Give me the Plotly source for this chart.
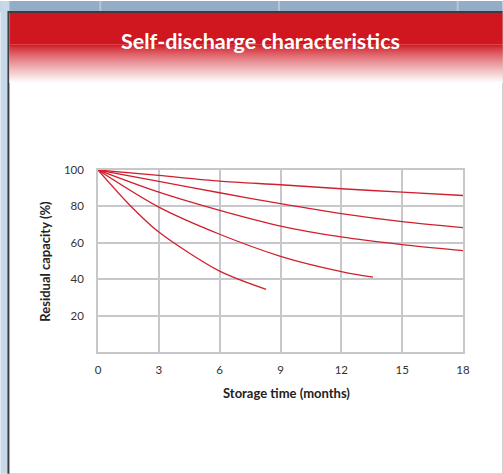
import plotly.graph_objects as go

# storage time (months) and residual capacity (%) for each curve
months_1 = [0, 3, 6, 9, 12, 15, 18]
capacity_1 = [100, 97.0, 93.9, 91.9, 89.7, 87.8, 86.0]

months_2 = [0, 3, 6, 9, 12, 15, 18]
capacity_2 = [100, 93.7, 87.5, 81.5, 76.0, 71.6, 68.3]

months_3 = [0, 3, 6, 9, 12, 15, 18]
capacity_3 = [100, 87.8, 77.8, 69.2, 63.2, 59.0, 55.7]

months_4 = [0, 3, 6, 9, 12, 13.56]
capacity_4 = [100, 79.6, 64.7, 52.6, 44.2, 41.1]

months_5 = [0, 1.5, 3, 6, 8.29]
capacity_5 = [100, 81.5, 65.9, 44.4, 34.4]

x_ticks = [0, 3, 6, 9, 12, 15, 18]
y_ticks = [20, 40, 60, 80, 100]

_RED = "#d0202e"
_GRID = "#c8c8cc"
_FONT = "Lato, 'DejaVu Sans', sans-serif"

W, H = 503, 474
L, R, T, B = 97.7, 463.3, 169.5, 352.0


def px(x):
    return (x - L) / (R - L)


def py(y):
    return (B - y) / (B - T)


fig = go.Figure()
for xs, ys in [(months_1, capacity_1), (months_2, capacity_2), (months_3, capacity_3),
               (months_4, capacity_4), (months_5, capacity_5)]:
    fig.add_trace(go.Scatter(
        x=xs, y=ys, mode="lines",
        line=dict(color=_RED, width=1.3, shape="spline", smoothing=0.8),
        hoverinfo="skip", showlegend=False,
    ))

shapes = []


def rect(x0, y0, x1, y1, color):
    shapes.append(dict(type="rect", xref="paper", yref="paper", layer="below",
                       x0=px(x0), x1=px(x1), y0=py(y0), y1=py(y1),
                       fillcolor=color, line=dict(width=0)))


# slide background
rect(0, 0, W, 11, "#95acc6")
rect(0, 0, 9, H, "#c7d8e8")
for vx in (99, 278, 457):
    rect(vx, 0, vx + 2, 10, "#b4c6da")
# panel + dark frame
rect(7, 10, W, H, "#3b3d40")
rect(9, 12, W, H, "#ffffff")
# red header with fade to white
rect(9, 12, W, 44, "#d0161f")
top, bot = 44, 82
steps = 38
for i in range(steps):
    t = (i + 0.5) / steps
    t = t ** 0.8
    r = int(208 + (255 - 208) * t)
    g = int(22 + (255 - 22) * t)
    b = int(31 + (255 - 31) * t)
    y0 = top + (bot - top) * i / steps
    y1 = top + (bot - top) * (i + 1) / steps + 0.5
    rect(9, y0, W, y1, f"rgb({r},{g},{b})")

fig.update_layout(
    width=W, height=H,
    paper_bgcolor="#ffffff",
    plot_bgcolor="rgba(0,0,0,0)",
    margin=dict(l=L, r=W - R, t=T, b=H - B, pad=0),
    font=dict(family=_FONT, color="#333333", size=11),
    shapes=shapes,
    xaxis=dict(
        range=[0, 18], tickvals=x_ticks, showgrid=True, gridcolor=_GRID, gridwidth=1.5,
        showline=True, linecolor=_GRID, linewidth=1.5, mirror=True,
        zeroline=False, ticks="", ticklabelstandoff=6,
        tickfont=dict(size=11.5, color="#333333"),
    ),
    yaxis=dict(
        range=[0, 100], tickvals=y_ticks, showgrid=True, gridcolor=_GRID, gridwidth=1.5,
        showline=True, linecolor=_GRID, linewidth=1.5, mirror=True,
        zeroline=False, ticks="", ticklabelstandoff=10,
        tickfont=dict(size=11.5, color="#333333"),
    ),
    annotations=[
        dict(text="<b>Self-discharge characteristics</b>", xref="paper", yref="paper",
             x=px(260), y=py(40), xanchor="center", yanchor="middle", showarrow=False,
             font=dict(family=_FONT, size=21.5, color="#ffffff")),
        dict(text="<b>Residual capacity (%)</b>", xref="paper", yref="paper",
             x=px(45), y=py(261), xanchor="center", yanchor="middle", showarrow=False,
             textangle=-90, font=dict(family=_FONT, size=13, color="#222222")),
        dict(text="<b>Storage time (months)</b>", xref="paper", yref="paper",
             x=px(287), y=py(393), xanchor="center", yanchor="middle", showarrow=False,
             font=dict(family=_FONT, size=13, color="#222222")),
    ],
)

fig.write_html("out.html", config={"displayModeBar": False},
               post_script="document.body.style.margin='0';")
